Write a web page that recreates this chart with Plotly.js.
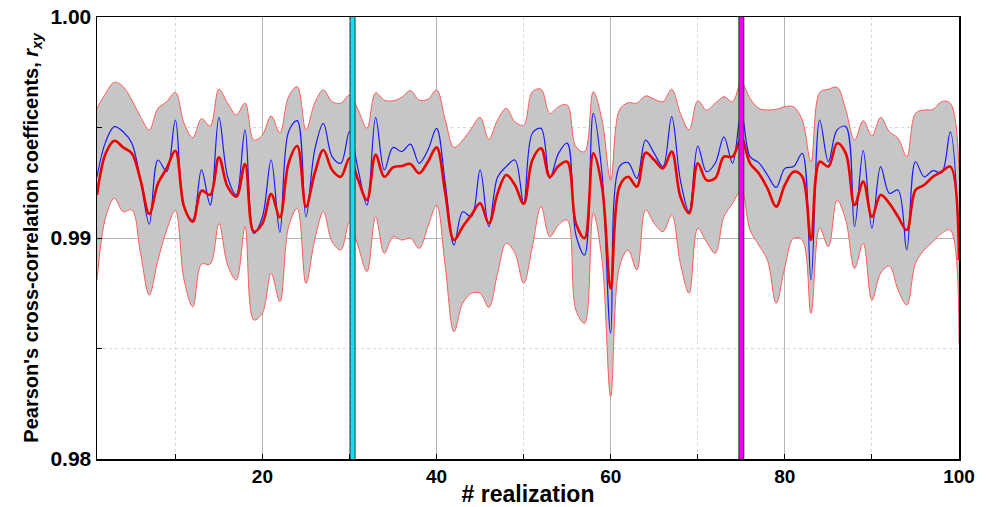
<!DOCTYPE html>
<html>
<head>
<meta charset="utf-8">
<script src="https://cdn.plot.ly/plotly-3.0.1.min.js"></script>
<style>html,body{margin:0;padding:0;background:#fff;}#chart{width:987px;height:507px;}</style>
</head>
<body>
<div id="chart"></div>
<script>
// realizations 1..100
var realization = [];
for (var i = 1; i <= 100; i++) realization.push(i);

var upperBound = [
0.99587,0.99655,0.99705,0.99685,0.99624,0.99549,0.99489,0.99587,0.99617,0.99659,
0.99519,0.99454,0.99540,0.99507,0.99673,0.99610,0.99557,0.99610,0.99443,0.99466,
0.99552,0.99476,0.99639,0.99685,0.99489,0.99610,0.99670,0.99617,0.99610,0.99647,
0.99579,0.99496,0.99657,0.99624,0.99621,0.99637,0.99667,0.99624,0.99628,0.99670,
0.99534,0.99410,0.99443,0.99496,0.99546,0.99447,0.99534,0.99587,0.99526,0.99511,
0.99662,0.99673,0.99564,0.99594,0.99602,0.99413,0.99391,0.99662,0.99534,0.99262,
0.99579,0.99612,0.99610,0.99643,0.99628,0.99617,0.99673,0.99564,0.99489,0.99621,
0.99579,0.99610,0.99639,0.99617,0.99703,0.99632,0.99587,0.99579,0.99582,0.99594,
0.99594,0.99534,0.99345,0.99658,0.99673,0.99682,0.99579,0.99443,0.99531,0.99462,
0.99546,0.99481,0.99451,0.99368,0.99564,0.99579,0.99582,0.99617,0.99610,0.99308
];

var meanCorr = [
0.99195,0.99383,0.99440,0.99410,0.99383,0.99262,0.99109,0.99247,0.99315,0.99395,
0.99142,0.99074,0.99214,0.99195,0.99365,0.99232,0.99187,0.99335,0.99029,0.99066,
0.99199,0.99094,0.99338,0.99416,0.99142,0.99293,0.99398,0.99308,0.99277,0.99361,
0.99262,0.99172,0.99376,0.99277,0.99320,0.99326,0.99335,0.99293,0.99345,0.99410,
0.99202,0.98991,0.99051,0.99104,0.99157,0.99066,0.99202,0.99285,0.99240,0.99154,
0.99353,0.99406,0.99277,0.99326,0.99345,0.99066,0.98999,0.99383,0.99232,0.98772,
0.99232,0.99277,0.99232,0.99386,0.99353,0.99315,0.99391,0.99187,0.99112,0.99338,
0.99262,0.99270,0.99368,0.99368,0.99451,0.99338,0.99293,0.99225,0.99142,0.99240,
0.99300,0.99277,0.98991,0.99345,0.99323,0.99429,0.99383,0.99149,0.99255,0.99096,
0.99195,0.99157,0.99096,0.99036,0.99217,0.99240,0.99277,0.99300,0.99323,0.98900
];

var bestCorr = [
0.99277,0.99436,0.99504,0.99481,0.99429,0.99262,0.99063,0.99353,0.99300,0.99534,
0.99142,0.99081,0.99308,0.99149,0.99546,0.99277,0.99195,0.99489,0.99021,0.99096,
0.99353,0.99026,0.99481,0.99531,0.99096,0.99398,0.99519,0.99368,0.99338,0.99481,
0.99308,0.99149,0.99546,0.99308,0.99410,0.99391,0.99425,0.99338,0.99398,0.99496,
0.99247,0.98968,0.99119,0.99096,0.99308,0.99051,0.99275,0.99323,0.99353,0.99157,
0.99474,0.99496,0.99270,0.99383,0.99429,0.99014,0.98923,0.99564,0.99293,0.98569,
0.99323,0.99341,0.99270,0.99443,0.99383,0.99323,0.99549,0.99262,0.99119,0.99416,
0.99300,0.99338,0.99458,0.99338,0.99571,0.99368,0.99341,0.99285,0.99229,0.99315,
0.99323,0.99383,0.98810,0.99534,0.99345,0.99489,0.99504,0.99051,0.99395,0.99044,
0.99323,0.99202,0.99217,0.98946,0.99345,0.99277,0.99305,0.99295,0.99480,0.98961
];

var lowerBound = [
0.98810,0.99096,0.99180,0.99119,0.99127,0.98931,0.98742,0.98900,0.99036,0.99124,
0.98810,0.98689,0.98882,0.98882,0.99066,0.98878,0.98810,0.99051,0.98629,0.98661,
0.98840,0.98712,0.99051,0.99134,0.98795,0.98991,0.99119,0.98983,0.98946,0.99071,
0.98961,0.98848,0.99096,0.98931,0.99006,0.98991,0.98999,0.98953,0.99051,0.99149,
0.98870,0.98576,0.98705,0.98750,0.98750,0.98686,0.98840,0.98976,0.98931,0.98795,
0.98961,0.99142,0.99006,0.99059,0.99081,0.98674,0.98614,0.99112,0.98900,0.98282,
0.98870,0.98946,0.98855,0.99127,0.99066,0.99029,0.99104,0.98885,0.98750,0.99044,
0.98983,0.98931,0.99096,0.99157,0.99217,0.99036,0.98968,0.98900,0.98705,0.98870,
0.98999,0.98991,0.98659,0.99045,0.98961,0.99172,0.99081,0.98863,0.98976,0.98719,
0.98840,0.98873,0.98765,0.98697,0.98885,0.98946,0.98983,0.99021,0.99036,0.98524
];

var markerCyanX = 30.35;
var markerMagentaX = 75.0;
var yLimits = [0.98, 1.0];

var boundColor = '#ff5a5a';
var traces = [
  {x: realization, y: lowerBound, type: 'scatter', mode: 'lines',
   line: {color: boundColor, width: 1, shape: 'spline'}, hoverinfo: 'skip', showlegend: false},
  {x: realization, y: upperBound, type: 'scatter', mode: 'lines', fill: 'tonexty',
   fillcolor: '#c6c6c6', line: {color: boundColor, width: 1, shape: 'spline'}, showlegend: false},
  {x: realization, y: bestCorr, type: 'scatter', mode: 'lines',
   line: {color: '#1a1aff', width: 1.2, shape: 'spline'}, showlegend: false},
  {x: realization, y: meanCorr, type: 'scatter', mode: 'lines',
   line: {color: '#ee0000', width: 2.6, shape: 'spline'}, showlegend: false},
  {x: [markerCyanX, markerCyanX], y: yLimits, type: 'scatter', mode: 'lines',
   line: {color: '#333333', width: 6}, showlegend: false},
  {x: [markerCyanX, markerCyanX], y: yLimits, type: 'scatter', mode: 'lines',
   line: {color: '#00e5ee', width: 4}, showlegend: false},
  {x: [markerMagentaX, markerMagentaX], y: yLimits, type: 'scatter', mode: 'lines',
   line: {color: '#333333', width: 6}, showlegend: false},
  {x: [markerMagentaX, markerMagentaX], y: yLimits, type: 'scatter', mode: 'lines',
   line: {color: '#ee00ee', width: 4}, showlegend: false}
];

var fontFam = 'Liberation Sans, Arial, sans-serif';
var layout = {
  width: 987, height: 507,
  margin: {l: 97, r: 28, t: 17, b: 48},
  paper_bgcolor: '#ffffff', plot_bgcolor: '#ffffff',
  showlegend: false,
  xaxis: {
    range: [1, 100], tick0: 0, dtick: 20,
    showgrid: true, gridcolor: '#b4b4b4', gridwidth: 1,
    ticks: 'inside', ticklen: 5, tickcolor: '#000',
    showline: true, linecolor: '#000', linewidth: 1.5, mirror: true,
    zeroline: false,
    tickfont: {family: fontFam, size: 19, color: '#000', weight: 'bold'},
    minor: {dtick: 10, showgrid: true, gridcolor: '#d8d8d8', griddash: 'dot', ticks: 'inside', ticklen: 5, tickcolor: '#000'},
    title: {text: '# realization', standoff: 1, font: {family: fontFam, size: 23, color: '#000', weight: 'bold'}}
  },
  yaxis: {
    range: yLimits, tick0: 0.98, dtick: 0.01, tickformat: '.2f',
    showgrid: true, gridcolor: '#b4b4b4', gridwidth: 1,
    ticks: 'inside', ticklen: 5, tickcolor: '#000',
    showline: true, linecolor: '#000', linewidth: 1.5, mirror: true,
    zeroline: false,
    tickfont: {family: fontFam, size: 21, color: '#000', weight: 'bold'},
    minor: {dtick: 0.005, showgrid: true, gridcolor: '#d8d8d8', griddash: 'dot', ticks: 'inside', ticklen: 5, tickcolor: '#000'},
    title: {text: "Pearson's cross-correlation coefficents, <i>r</i><sub><i>xy</i></sub>", standoff: 6,
            font: {family: fontFam, size: 20, color: '#000', weight: 'bold'}}
  }
};

Plotly.newPlot('chart', traces, layout, {displayModeBar: false, staticPlot: true});
</script>
</body>
</html>
